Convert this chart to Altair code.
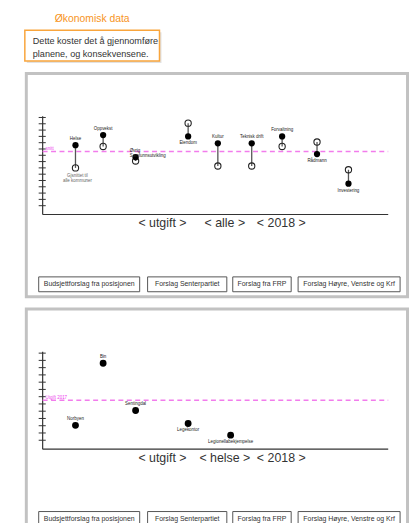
import altair as alt
import pandas as pd

FONT = "Liberation Sans, Arial, sans-serif"

# ---------------- data ----------------
title_text = "Økonomisk data"
intro_text = ["Dette koster det å gjennomføre", "planene, og konsekvensene."]

cat1 = ["Helse", "Oppvekst", "Øvrig\nSamfunnsutvikling", "Eiendom", "Kultur",
        "Teknisk drift", "Forvaltning", "Rådmann", "Investering"]
pos1 = [9.5, 17.5, 26.9, 42.1, 50.7, 60.5, 69.3, 79.4, 88.5]
plan1 = [9.6, 11.2, 7.7, 11.0, 9.9, 9.9, 11.0, 8.2, 3.5]
snitt1 = [6.0, 9.4, 7.1, 13.1, 6.3, 6.3, 9.4, 10.1, 5.7]
side1 = ["over", "over", "overleft", "under", "over", "over", "over", "under", "under"]
ref1 = 8.6
ref1_label = "snitt"
note1 = "Gjsnittet til\nalle kommuner"
ticks1 = list(range(0, 15))

cat2 = ["Norbyen", "Bin", "Sentingdal", "Legekontor", "Legionellabekjempelse"]
pos2 = [9.5, 17.5, 26.9, 42.1, 54.4]
val2 = [2.05, 10.6, 4.1, 2.3, 0.7]
side2 = ["over", "over", "over", "under", "under"]
ref2 = 5.5
ref2_label = "Utgift 2017"
ticks2 = list(range(0, 13))

selectors1 = ["utgift", "alle", "2018"]
selectors2 = ["utgift", "helse", "2018"]
buttons = ["Budsjettforslag fra posisjonen", "Forslag Senterpartiet",
           "Forslag fra FRP", "Forslag Høyre, Venstre og Krf"]

# ---------------- layout ----------------
W, H = 405, 515
OFF = 237  # vertical offset of panel 2
sel_x = [156, 219, 276]
btn_x = [(31, 133), (141, 221), (227, 286), (293, 396)]
PINK = "#f27cec"
PINK_TXT = "#ee44ee"

xs = alt.Scale(domain=[0, 100], range=[35, 384], nice=False, zero=False)
ys1 = alt.Scale(domain=[-1.4, 14], range=[206, 108], nice=False, zero=False)
ys2 = alt.Scale(domain=[-1.23, 12], range=[443, 346], nice=False, zero=False)
YMIN1, YTOP1 = -1.4, 14.2
YMIN2, YTOP2 = -1.23, 12.2

one = pd.DataFrame({"k": [0]})
layers = []


def box(x0, x1, y0, y1, **kw):
    return alt.Chart(one).mark_rect(**kw).encode(
        x=alt.value(x0), x2=alt.value(x1), y=alt.value(y0), y2=alt.value(y1))


def label(txt, x, y, **kw):
    return alt.Chart(one).mark_text(text=txt, font=FONT, **kw).encode(
        x=alt.value(x), y=alt.value(y))


# header
layers.append(label(title_text, 85, 9, fontSize=10.5, color="#f7941d"))
layers.append(box(19, 155, 22, 53, fill="#e2e2e2"))
layers.append(box(17, 153, 20, 51, fill="white", stroke="#f9a53c", strokeWidth=1.5))
layers.append(label(intro_text[0], 25, 31, fontSize=9.2, color="#333", align="left"))
layers.append(label(intro_text[1], 25, 44, fontSize=9.2, color="#333", align="left"))

# panel frames, selectors and buttons
for k, sels in enumerate([selectors1, selectors2]):
    o = k * OFF
    bottom = 289 if k == 0 else 700
    layers.append(box(18.5, 403.5, 63.5 + o - (0 if k == 0 else -1), bottom,
                      fill="white", stroke="#c2c2c2", strokeWidth=3))
    for s, sx in zip(sels, sel_x):
        layers.append(label(f"< {s} >", sx, 215 + o, fontSize=12.5, color="#333"))
    for b, (bx0, bx1) in zip(buttons, btn_x):
        layers.append(box(bx0, bx1, 269 + o, 284 + o, fill="white",
                          stroke="#555", strokeWidth=1))
        layers.append(label(b, (bx0 + bx1) / 2, 276.5 + o, fontSize=7, color="#333"))


def axes(ys, ticks, ymin, ytop):
    out = []
    adf = pd.DataFrame({"x": [0, 0], "x2": [0, 100], "y": [ymin, ymin], "y2": [ytop, ymin]})
    out.append(alt.Chart(adf).mark_rule(color="#333", strokeWidth=1.2).encode(
        x=alt.X("x:Q", scale=xs, axis=None), x2="x2:Q",
        y=alt.Y("y:Q", scale=ys, axis=None), y2="y2:Q"))
    tdf = pd.DataFrame({"t": ticks})
    out.append(alt.Chart(tdf).transform_calculate(a="-1.15", b="0.9").mark_rule(
        color="#333", strokeWidth=1).encode(
        x=alt.X("a:Q", scale=xs, axis=None), x2="b:Q",
        y=alt.Y("t:Q", scale=ys, axis=None)))
    return out


def refline(ys, ref, txt):
    rdf = pd.DataFrame({"x": [0], "x2": [100], "y": [ref], "label": [txt]})
    return [
        alt.Chart(rdf).mark_rule(color=PINK, strokeWidth=1.5, strokeDash=[5, 3.5]).encode(
            x=alt.X("x:Q", scale=xs, axis=None), x2="x2:Q",
            y=alt.Y("y:Q", scale=ys, axis=None)),
        alt.Chart(rdf).mark_text(font=FONT, fontSize=4.5, color=PINK_TXT, align="left",
                                 baseline="bottom", dx=3, dy=-0.5).encode(
            x=alt.X("x:Q", scale=xs, axis=None),
            y=alt.Y("y:Q", scale=ys, axis=None), text="label:N"),
    ]


def labels(df, ys, ycol):
    out = []
    specs = {"over": dict(baseline="bottom", dy=-4.5, align="center", dx=0),
             "under": dict(baseline="top", dy=4, align="center", dx=0),
             "overleft": dict(baseline="bottom", dy=-4.5, align="left", dx=-6)}
    for side, kw in specs.items():
        sub = df[df["side"] == side]
        if len(sub) == 0:
            continue
        out.append(alt.Chart(sub).mark_text(font=FONT, fontSize=4.5, color="#222",
                                            lineBreak="\n", lineHeight=5, **kw).encode(
            x=alt.X("pos:Q", scale=xs, axis=None),
            y=alt.Y(f"{ycol}:Q", scale=ys, axis=None), text="cat:N"))
    return out


# panel 1
df1 = pd.DataFrame({"cat": cat1, "pos": pos1, "plan": plan1, "snitt": snitt1, "side": side1})
layers += axes(ys1, ticks1, YMIN1, YTOP1)
layers += refline(ys1, ref1, ref1_label)
layers.append(alt.Chart(df1).mark_rule(color="#555", strokeWidth=1.3).encode(
    x=alt.X("pos:Q", scale=xs, axis=None),
    y=alt.Y("plan:Q", scale=ys1, axis=None), y2="snitt:Q"))
layers.append(alt.Chart(df1).mark_point(shape="circle", filled=False, size=40,
                                        color="#222", strokeWidth=1.1, opacity=1).encode(
    x=alt.X("pos:Q", scale=xs, axis=None),
    y=alt.Y("snitt:Q", scale=ys1, axis=None)))
layers.append(alt.Chart(df1).mark_circle(size=40, color="#000", opacity=1).encode(
    x=alt.X("pos:Q", scale=xs, axis=None),
    y=alt.Y("plan:Q", scale=ys1, axis=None)))
layers += labels(df1, ys1, "plan")
ndf = pd.DataFrame({"pos": [pos1[0]], "snitt": [snitt1[0]], "note": [note1]})
layers.append(alt.Chart(ndf).mark_text(font=FONT, fontSize=4.5, color="#666",
                                       baseline="top", dy=5, dx=2, lineBreak="\n",
                                       lineHeight=5.5).encode(
    x=alt.X("pos:Q", scale=xs, axis=None),
    y=alt.Y("snitt:Q", scale=ys1, axis=None), text="note:N"))

# panel 2
df2 = pd.DataFrame({"cat": cat2, "pos": pos2, "val": val2, "side": side2})
layers += axes(ys2, ticks2, YMIN2, YTOP2)
layers += refline(ys2, ref2, ref2_label)
layers.append(alt.Chart(df2).mark_circle(size=48, color="#000", opacity=1).encode(
    x=alt.X("pos:Q", scale=xs, axis=None),
    y=alt.Y("val:Q", scale=ys2, axis=None)))
layers += labels(df2, ys2, "val")

chart = alt.layer(*layers).resolve_scale(x="independent", y="independent").properties(
    width=W, height=H, autosize=alt.AutoSizeParams(type="none"), padding=0
).configure_view(stroke=None)

chart.save("out.html", embed_options={"renderer": "svg", "actions": False})
